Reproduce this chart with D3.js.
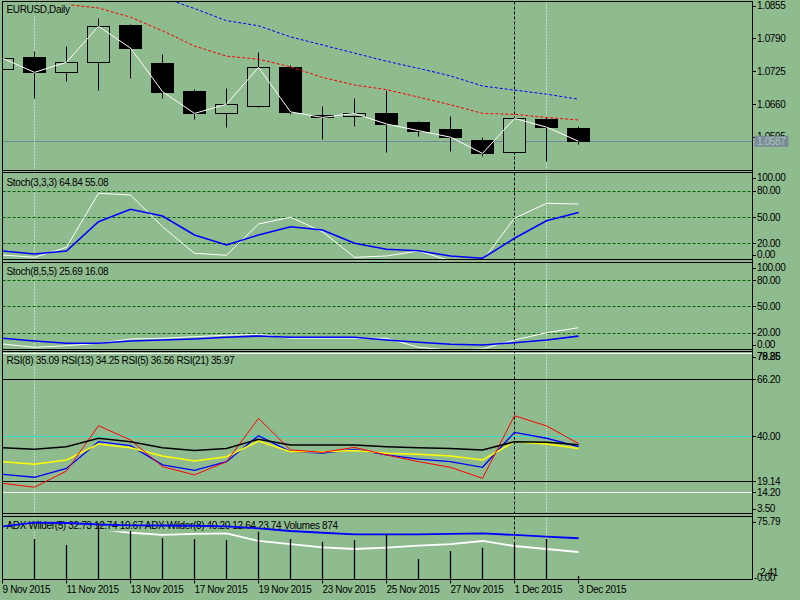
<!DOCTYPE html>
<html><head><meta charset="utf-8">
<script src="https://cdn.jsdelivr.net/npm/d3@7"></script>
<style>
body{margin:0;background:#8fbc8f;}
svg{display:block;}
text{font-family:"Liberation Sans",Arial,sans-serif;font-size:10px;letter-spacing:-0.35px;fill:#000;}
</style>
</head><body>
<svg id="c" width="800" height="600"></svg>
<script>
// ---------------- DATA ----------------
const dates = ["2015-11-09","2015-11-10","2015-11-11","2015-11-12","2015-11-13","2015-11-16","2015-11-17","2015-11-18","2015-11-19","2015-11-20","2015-11-23","2015-11-24","2015-11-25","2015-11-26","2015-11-27","2015-11-30","2015-12-01","2015-12-02","2015-12-03"];
const openP  = [1.0729,1.0753,1.0723,1.0743,1.0816,1.0741,1.0686,1.0642,1.0657,1.0733,1.0639,1.0637,1.0642,1.0625,1.0611,1.0589,1.0565,1.0631,1.0613];
const highP  = [1.0751,1.0765,1.0775,1.0830,1.0818,1.0759,1.0690,1.0692,1.0763,1.0737,1.0657,1.0672,1.0688,1.0627,1.0637,1.0596,1.0632,1.0635,1.0617];
const lowP   = [1.0729,1.0673,1.0705,1.0689,1.0712,1.0673,1.0630,1.0616,1.0655,1.0640,1.0592,1.0617,1.0565,1.0598,1.0567,1.0558,1.0565,1.0549,1.0582];
const closeP = [1.0751,1.0723,1.0743,1.0814,1.0771,1.0685,1.0642,1.0660,1.0733,1.0645,1.0634,1.0642,1.0621,1.0608,1.0595,1.0563,1.0632,1.0615,1.0587];
const maRed  = [null,null,1.0857,1.0850,1.0832,1.0805,1.0775,1.0755,1.0749,1.0734,1.0713,1.0698,1.0689,1.0674,1.0659,1.0642,1.0640,1.0634,1.0629];
const maBlue = [null,null,null,null,null,1.0871,1.0849,1.0825,1.0815,1.0793,1.0777,1.0761,1.0745,1.0731,1.0716,1.0696,1.0688,1.0680,1.0670];
const priceTicks = [1.0855,1.0790,1.0725,1.0660,1.0595];

const st1Main   = [6.6,4.0,15.4,77.1,75.1,38.9,8.6,6.3,42.0,49.7,33.2,4.0,5.5,11.2,0,0,48.5,65.6,64.84];
const st1Signal = [11.2,7.8,11.2,44.6,58.8,51.1,29.5,18.0,29.5,38.9,35.2,20.0,13.1,11.5,5.5,2.9,25.7,45.8,55.08];
const st2Main   = [7.2,3.4,5.2,8.0,12.9,13.7,15.5,17.1,18.2,13.7,13.7,13.7,13.7,3.4,0,1.5,11.7,20.0,25.69];
const st2Signal = [13.7,10.6,8.0,8.0,10.6,11.7,12.9,14.8,16.3,14.8,14.8,14.8,11.7,9.1,6.8,6.0,8.6,11.7,16.08];
const stLevels  = [80,50,20];
const stTicks   = [100,80,50,20,0];

const rsi5  = [18.2,16.4,23.9,44.8,38.2,25.9,22.1,28.2,48.2,33.6,32.5,34.8,31.3,28.2,25.6,20.5,49.4,44.7,36.56];
const rsi8  = [22.4,21.0,25.1,37.4,35.6,26.7,24.2,28.2,40.2,32.8,32.1,33.9,31.3,29.4,28.2,25.6,41.7,39.0,35.09];
const rsi13 = [28.2,27.0,29.0,36.3,34.6,30.8,28.5,30.5,37.7,32.8,32.8,33.3,32.1,31.6,30.8,29.0,37.4,36.3,34.25];
const rsi21 = [34.6,33.9,35.1,39.0,37.4,34.6,33.4,34.3,38.5,35.9,35.9,35.9,35.1,34.6,34.3,33.6,37.4,37.1,35.97];
const rsiLevels = [78.25,66.20,40.00,19.14,14.20];
const rsiTicks  = [79.86,78.25,66.20,40.00,19.14,14.20,3.50];

const adx5Main = [null,null,null,60.6,56.1,53.4,54.6,55.4,46.1,42.4,38.4,36.4,38.0,40.4,42.4,46.1,40.0,36.4,32.73];
const adxBlue  = [63.7,68.3,67.9,66.1,65.1,64.9,64.6,63.9,61.5,58.2,56.1,54.2,54.2,54.2,54.6,55.4,53.4,51.3,49.4];
const adx5DI   = [12.74,19.67];
const adx8Last = [40.20,12.64,23.74];
const volumes  = [null,11520,9790,16130,13820,11720,11520,11230,13620,11520,10740,11230,12870,5760,8060,9010,10370,11520,874];
const adxTicks = [75.79,2.41,0];

const sepWhite = ["2015-11-10","2015-12-02"];
const sepBlack = ["2015-12-01"];

// ---------------- LAYOUT ----------------
const BG = "#8fbc8f";
const L = 2.5, R = 752.5;
const P = {
  main:{top:1.5,bottom:170.5},
  st1:{top:172.5,bottom:259.5},
  st2:{top:262.5,bottom:349.5},
  rsi:{top:351.5,bottom:513.5},
  adx:{top:516.5,bottom:579.5}
};
const parse = d3.timeParse("%Y-%m-%d");
const fmtDate = d3.timeFormat("%-d %b %Y");
const f2 = d3.format(".2f"), f4 = d3.format(".4f");

const x = d3.scalePoint().domain(dates).range([2.5, 578.5]);
const yMain = d3.scaleLinear().domain([1.0595,1.0855]).range([137.2,5.5]);
const ySt1 = d3.scaleLinear().domain([0,100]).range([260.8,173.2]);
const ySt2 = d3.scaleLinear().domain([0,100]).range([350.3,262.4]);
const yRsi = d3.scaleLinear().domain([19.14,66.20]).range([481.3,379.3]);
const yAdx = d3.scaleLinear().domain([0,75.79]).range([579,516.5]);
const yVol = d3.scaleLinear().domain([0,18000]).range([579,516.5]);

const svg = d3.select("#c");
svg.append("rect").attr("width",800).attr("height",600).attr("fill",BG);
const defs = svg.append("defs");
Object.entries(P).forEach(([k,p])=>{
  defs.append("clipPath").attr("id","clip-"+k).append("rect")
    .attr("x",L+0.5).attr("y",p.top+0.5).attr("width",R-L-1).attr("height",p.bottom-p.top-1);
});
const px = v => Math.round(v)+0.5;

function panelG(k){ return svg.append("g").attr("clip-path","url(#clip-"+k+")"); }

function separators(g,p){
  sepWhite.forEach(d=>{
    g.append("line").attr("x1",x(d)).attr("x2",x(d)).attr("y1",p.top).attr("y2",p.bottom)
      .attr("stroke","#ffffff").attr("stroke-width",1).attr("stroke-dasharray","1,2");
  });
  sepBlack.forEach(d=>{
    g.append("line").attr("x1",x(d)).attr("x2",x(d)).attr("y1",p.top).attr("y2",p.bottom)
      .attr("stroke","#000").attr("stroke-width",1).attr("stroke-dasharray","3,2");
  });
}
function header(g,txt,baseline){
  const t = g.append("text").attr("x",6.5).attr("y",baseline).text(txt);
  const bb = t.node().getBBox();
  g.insert("rect",()=>t.node()).attr("x",bb.x-1).attr("y",bb.y-1)
    .attr("width",bb.width+2).attr("height",bb.height+1).attr("fill",BG);
}
function series(g,vals,yS,color,w,dash){
  const line = d3.line().defined(d=>d!=null).x((d,i)=>x(dates[i])).y(d=>yS(d));
  const pth = g.append("path").datum(vals).attr("d",line).attr("fill","none")
    .attr("stroke",color).attr("stroke-width",w);
  if(dash) pth.attr("stroke-dasharray",dash);
  return pth;
}
const axis = svg.append("g");
function rightTick(y){
  axis.append("line").attr("x1",R).attr("x2",R+3.5).attr("y1",px(y)).attr("y2",px(y)).attr("stroke","#000");
}
function rightLabel(y,txt,xx,ly){
  rightTick(y);
  axis.append("text").attr("x",xx||757).attr("y",(ly==null?y:ly)+3.6).text(txt);
}
const clampL = (y,p)=>Math.max(p.top+5,Math.min(p.bottom-5,y));

// ---------------- MAIN PANEL ----------------
{
  const p = P.main, g = panelG("main");
  separators(g,p);
  const last = closeP[closeP.length-1];
  const bidY = px(yMain(last));
  g.append("line").attr("x1",L).attr("x2",R).attr("y1",bidY).attr("y2",bidY).attr("stroke","#778899");
  dates.forEach((d,i)=>{
    const cx = x(d);
    g.append("line").attr("x1",cx).attr("x2",cx)
      .attr("y1",px(yMain(highP[i]))).attr("y2",px(yMain(lowP[i]))).attr("stroke","#000");
    const yo = px(yMain(openP[i])), yc = px(yMain(closeP[i]));
    const bull = closeP[i] >= openP[i];
    g.append("rect").attr("x",cx-11).attr("width",22)
      .attr("y",Math.min(yo,yc)).attr("height",Math.max(1,Math.abs(yo-yc)))
      .attr("fill",bull?BG:"#000").attr("stroke","#000").attr("stroke-width",1);
  });
  series(g,closeP,yMain,"#ffffff",1);
  series(g,maRed,yMain,"#ff0000",1,"3,2");
  series(g,maBlue,yMain,"#0000ff",1,"3,2");
  header(g,"EURUSD,Daily",13.2);
  const boxTop = yMain(last)-5.5;
  priceTicks.forEach(v=>{
    const y = yMain(v);
    const ly = (y+5 > boxTop && y < boxTop+11) ? boxTop+0.3 : y;
    rightLabel(y,f4(v),757,ly);
  });
  axis.append("rect").attr("x",754.5).attr("y",boxTop).attr("width",34).attr("height",11).attr("fill","#7a8a9a");
  axis.append("text").attr("x",757).attr("y",yMain(last)+3.6).style("fill","#a9c9a9").text(f4(last));
}

// ---------------- STOCH PANELS ----------------
function stochPanel(k,yS,main,sig,title,base){
  const p = P[k], g = panelG(k);
  separators(g,p);
  stLevels.forEach(v=>{
    g.append("line").attr("x1",L).attr("x2",R).attr("y1",px(yS(v))).attr("y2",px(yS(v)))
      .attr("stroke","#006400").attr("stroke-dasharray","3,2");
  });
  series(g,main,yS,"#ffffff",1);
  series(g,sig,yS,"#0000ff",1.6);
  header(g,title+" "+f2(main[main.length-1])+" "+f2(sig[sig.length-1]),base);
  stTicks.forEach(v=>rightLabel(clampL(yS(v),p),f2(v)));
}
stochPanel("st1",ySt1,st1Main,st1Signal,"Stoch(3,3,3)",185.6);
stochPanel("st2",ySt2,st2Main,st2Signal,"Stoch(8,5,5)",275.3);

// ---------------- RSI PANEL ----------------
{
  const p = P.rsi, g = panelG("rsi");
  separators(g,p);
  const lvlStyle = ["#ffffff","#000000","#00f0f0","#000000","#ffffff"];
  rsiLevels.forEach((v,i)=>{
    const ln = g.append("line").attr("x1",L).attr("x2",R).attr("y1",px(yRsi(v))).attr("y2",px(yRsi(v)))
      .attr("stroke",lvlStyle[i]);
    if(i===2) ln.attr("stroke-dasharray","3,2");
  });
  series(g,rsi8,yRsi,"#0000ff",1.3);
  series(g,rsi13,yRsi,"#ffff00",1.5);
  series(g,rsi5,yRsi,"#ff0000",1);
  series(g,rsi21,yRsi,"#000000",1.5);
  const lastOf = a=>f2(a[a.length-1]);
  header(g,`RSI(8) ${lastOf(rsi8)} RSI(13) ${lastOf(rsi13)} RSI(5) ${lastOf(rsi5)} RSI(21) ${lastOf(rsi21)}`,364);
  rsiTicks.forEach(v=>rightLabel(clampL(yRsi(v),p),f2(v)));
}

// ---------------- ADX / VOLUME PANEL ----------------
{
  const p = P.adx, g = panelG("adx");
  separators(g,p);
  series(g,adx5Main,yAdx,"#ffffff",1.8);
  header(g,`ADX Wilder(5) ${f2(adx5Main[adx5Main.length-1])} ${f2(adx5DI[0])} ${f2(adx5DI[1])} ADX Wilder(8) ${adx8Last.map(f2).join(" ")} Volumes ${volumes[volumes.length-1]}`,529.3);
  series(g,adxBlue,yAdx,"#0000ff",1.8);
  dates.forEach((d,i)=>{
    if(volumes[i]==null) return;
    g.append("line").attr("x1",x(d)).attr("x2",x(d)).attr("y1",yVol(volumes[i])).attr("y2",p.bottom)
      .attr("stroke","#000").attr("stroke-width",1.3);
  });
  rightLabel(clampL(yAdx(adxTicks[0]),p),f2(adxTicks[0]));
  axis.append("text").attr("x",760).attr("y",572.3+3.6).text(f2(adxTicks[1]));
  axis.append("text").attr("x",754).attr("y",577.3+3.6).text("-"+f2(adxTicks[2]));
}

// ---------------- FRAMES ----------------
Object.values(P).forEach(p=>{
  svg.append("rect").attr("x",L).attr("y",p.top).attr("width",R-L).attr("height",p.bottom-p.top)
    .attr("fill","none").attr("stroke","#000");
});
svg.append("line").attr("x1",R).attr("x2",R).attr("y1",P.main.top).attr("y2",P.adx.bottom).attr("stroke","#000");
svg.append("line").attr("x1",L).attr("x2",L).attr("y1",P.main.top).attr("y2",P.adx.bottom).attr("stroke","#000");

// ---------------- X AXIS ----------------
const xa = svg.append("g");
dates.forEach((d,i)=>{
  if(i%2) return;
  xa.append("line").attr("x1",x(d)).attr("x2",x(d)).attr("y1",P.adx.bottom).attr("y2",P.adx.bottom+4).attr("stroke","#000");
  xa.append("text").attr("x",x(d)).attr("y",592.7).text(fmtDate(parse(d)));
});
svg.node().appendChild(axis.node());
</script>
</body></html>
